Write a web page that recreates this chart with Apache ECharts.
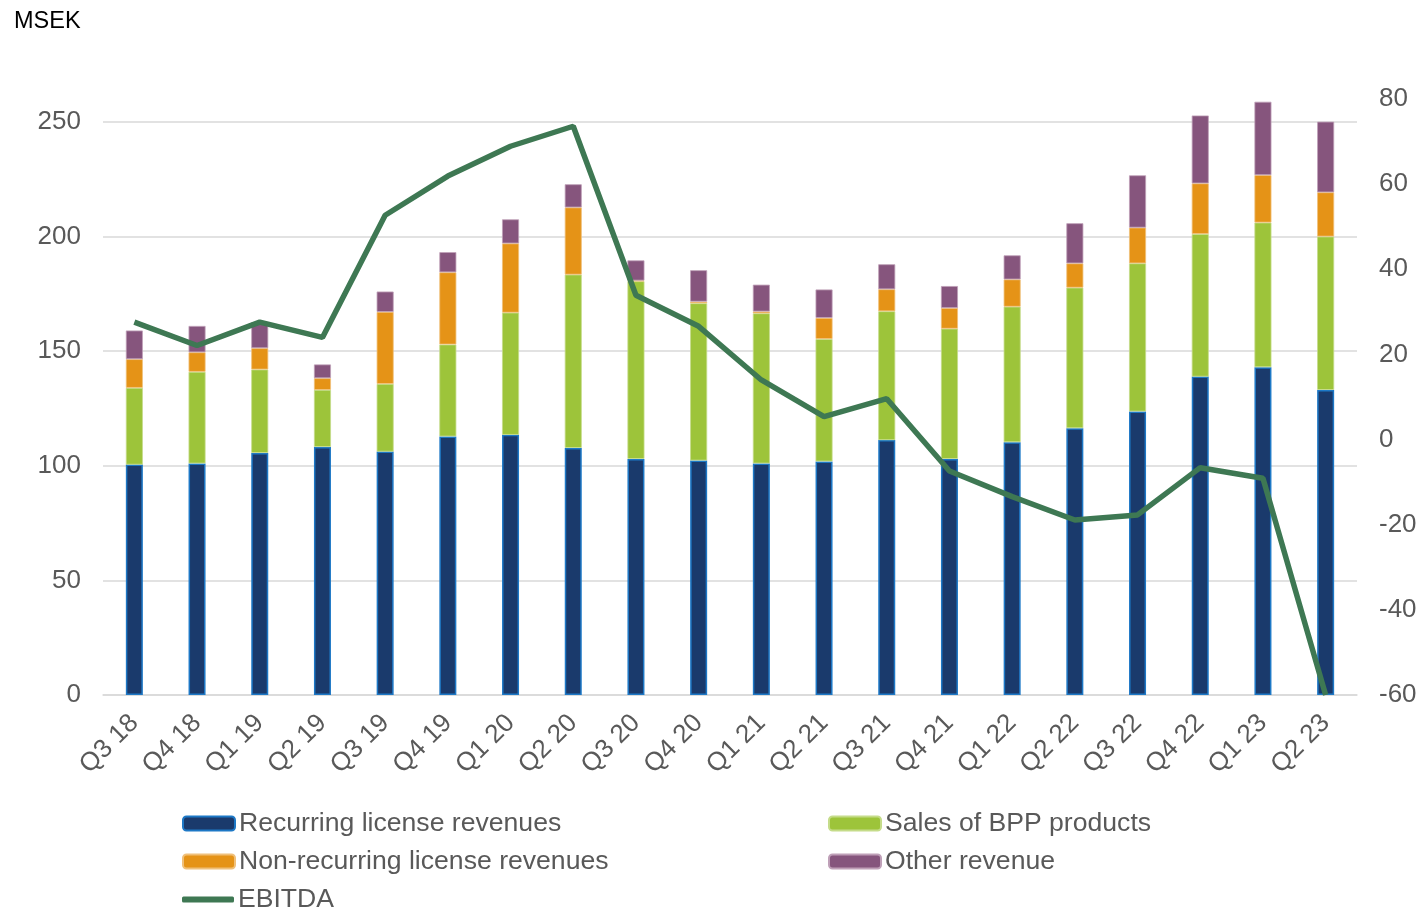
<!DOCTYPE html>
<html>
<head>
<meta charset="utf-8">
<script src="https://cdn.jsdelivr.net/npm/echarts@6/dist/echarts.min.js"></script>
<style>
	html, body { margin: 0; padding: 0; background: #fff; }
	#main { width: 1422px; height: 909px; }
</style>
</head>
<body>
<div id="main"></div>
<script>
var quarters = ['Q3 18', 'Q4 18', 'Q1 19', 'Q2 19', 'Q3 19', 'Q4 19', 'Q1 20', 'Q2 20', 'Q3 20', 'Q4 20',
	'Q1 21', 'Q2 21', 'Q3 21', 'Q4 21', 'Q1 22', 'Q2 22', 'Q3 22', 'Q4 22', 'Q1 23', 'Q2 23'];
var recurring = [100.5, 101, 105.6, 108.2, 106.2, 112.8, 113.5, 107.8, 103, 102.3, 101, 101.9, 111.2, 103, 110.3, 116.4, 123.7, 138.9, 143, 133.1];
var bppSales = [33.5, 40, 36.4, 24.9, 29.5, 40.1, 53.3, 75.6, 77.5, 68.6, 65.5, 53.4, 56.2, 56.8, 59.1, 61.3, 64.6, 62.2, 63.1, 66.9];
var nonRecurring = [12.5, 8.5, 9.3, 5.1, 31.4, 31.5, 30.2, 29.3, 0.3, 0.7, 0.8, 9.2, 9.6, 9, 11.9, 10.6, 15.6, 22.1, 20.7, 19.3];
var otherRevenue = [12.5, 11.5, 11.3, 6, 8.9, 8.8, 10.5, 10.1, 8.8, 13.7, 11.7, 12.4, 10.9, 9.6, 10.5, 17.5, 22.8, 29.6, 32, 30.8];
var ebitda = [27.6, 22.1, 27.6, 24, 52.7, 61.9, 68.9, 73.6, 33.9, 26.6, 14, 5.4, 9.6, -7.4, -13.4, -18.9, -17.7, -6.6, -9.1, -60];
var leftTicks = [0, 260, 50];
var rightTicks = [-60, 80, 20];

var font = 'Liberation Sans, Arial, sans-serif';
var grey = '#595959';

function legendAt(name, x, y, lineIcon) {
	return {
		data: [lineIcon ? { name: name, icon: 'roundRect' } : name],
		left: x,
		top: y,
		padding: 0,
		itemWidth: 52,
		itemHeight: lineIcon ? 6 : 14,
		itemGap: 0,
		textStyle: { fontSize: 26.6, color: grey, fontFamily: font, padding: [0, 0, 0, -1] }
	};
}

var myChart = echarts.init(document.getElementById('main'));
var option = {
	animation: false,
	textStyle: { fontFamily: font },
	graphic: [{
		type: 'text',
		left: 14,
		top: 10,
		style: { text: 'MSEK', fontSize: 23.5, fill: '#000', fontFamily: font }
	}],
	legend: [
		legendAt('Recurring license revenues', 182, 810),
		legendAt('Sales of BPP products', 828, 810),
		legendAt('Non-recurring license revenues', 182, 848),
		legendAt('Other revenue', 828, 848),
		legendAt('EBITDA', 182, 886, true)
	],
	grid: { left: 103, right: 65, top: 99, bottom: 214 },
	xAxis: {
		type: 'category',
		data: quarters,
		axisLine: { lineStyle: { color: '#D9D9D9', width: 1.5 } },
		axisTick: { show: false },
		axisLabel: { rotate: 45, fontSize: 26, color: grey, margin: 24, interval: 0 }
	},
	yAxis: [{
		type: 'value',
		min: leftTicks[0],
		max: leftTicks[1],
		interval: leftTicks[2],
		axisLine: { show: false },
		axisTick: { show: false },
		axisLabel: { fontSize: 26, color: grey, margin: 22, showMaxLabel: false },
		splitLine: { showMaxLine: false, lineStyle: { color: '#D9D9D9', width: 1.5 } }
	}, {
		type: 'value',
		min: rightTicks[0],
		max: rightTicks[1],
		interval: rightTicks[2],
		axisLine: { show: false },
		axisTick: { show: false },
		axisLabel: { fontSize: 26, color: grey, margin: 22 },
		splitLine: { show: false }
	}],
	series: [{
		name: 'Recurring license revenues',
		type: 'bar',
		stack: 'rev',
		barWidth: 17,
		data: recurring,
		itemStyle: { color: '#1A3A6C', borderColor: '#1D78C6', borderWidth: 1.5 }
	}, {
		name: 'Sales of BPP products',
		type: 'bar',
		stack: 'rev',
		data: bppSales,
		itemStyle: { color: '#9DC43A', borderColor: '#C5DC8A', borderWidth: 0.8 }
	}, {
		name: 'Non-recurring license revenues',
		type: 'bar',
		stack: 'rev',
		data: nonRecurring,
		itemStyle: { color: '#E59317', borderColor: '#F0C07A', borderWidth: 0.8 }
	}, {
		name: 'Other revenue',
		type: 'bar',
		stack: 'rev',
		data: otherRevenue,
		itemStyle: { color: '#86557D', borderColor: '#BFA0B8', borderWidth: 0.8 }
	}, {
		name: 'EBITDA',
		type: 'line',
		yAxisIndex: 1,
		data: ebitda,
		symbol: 'none',
		clip: false,
		lineStyle: { color: '#3E7853', width: 5.5 },
		itemStyle: { color: '#3E7853' }
	}]
};
myChart.setOption(option);
</script>
</body>
</html>
